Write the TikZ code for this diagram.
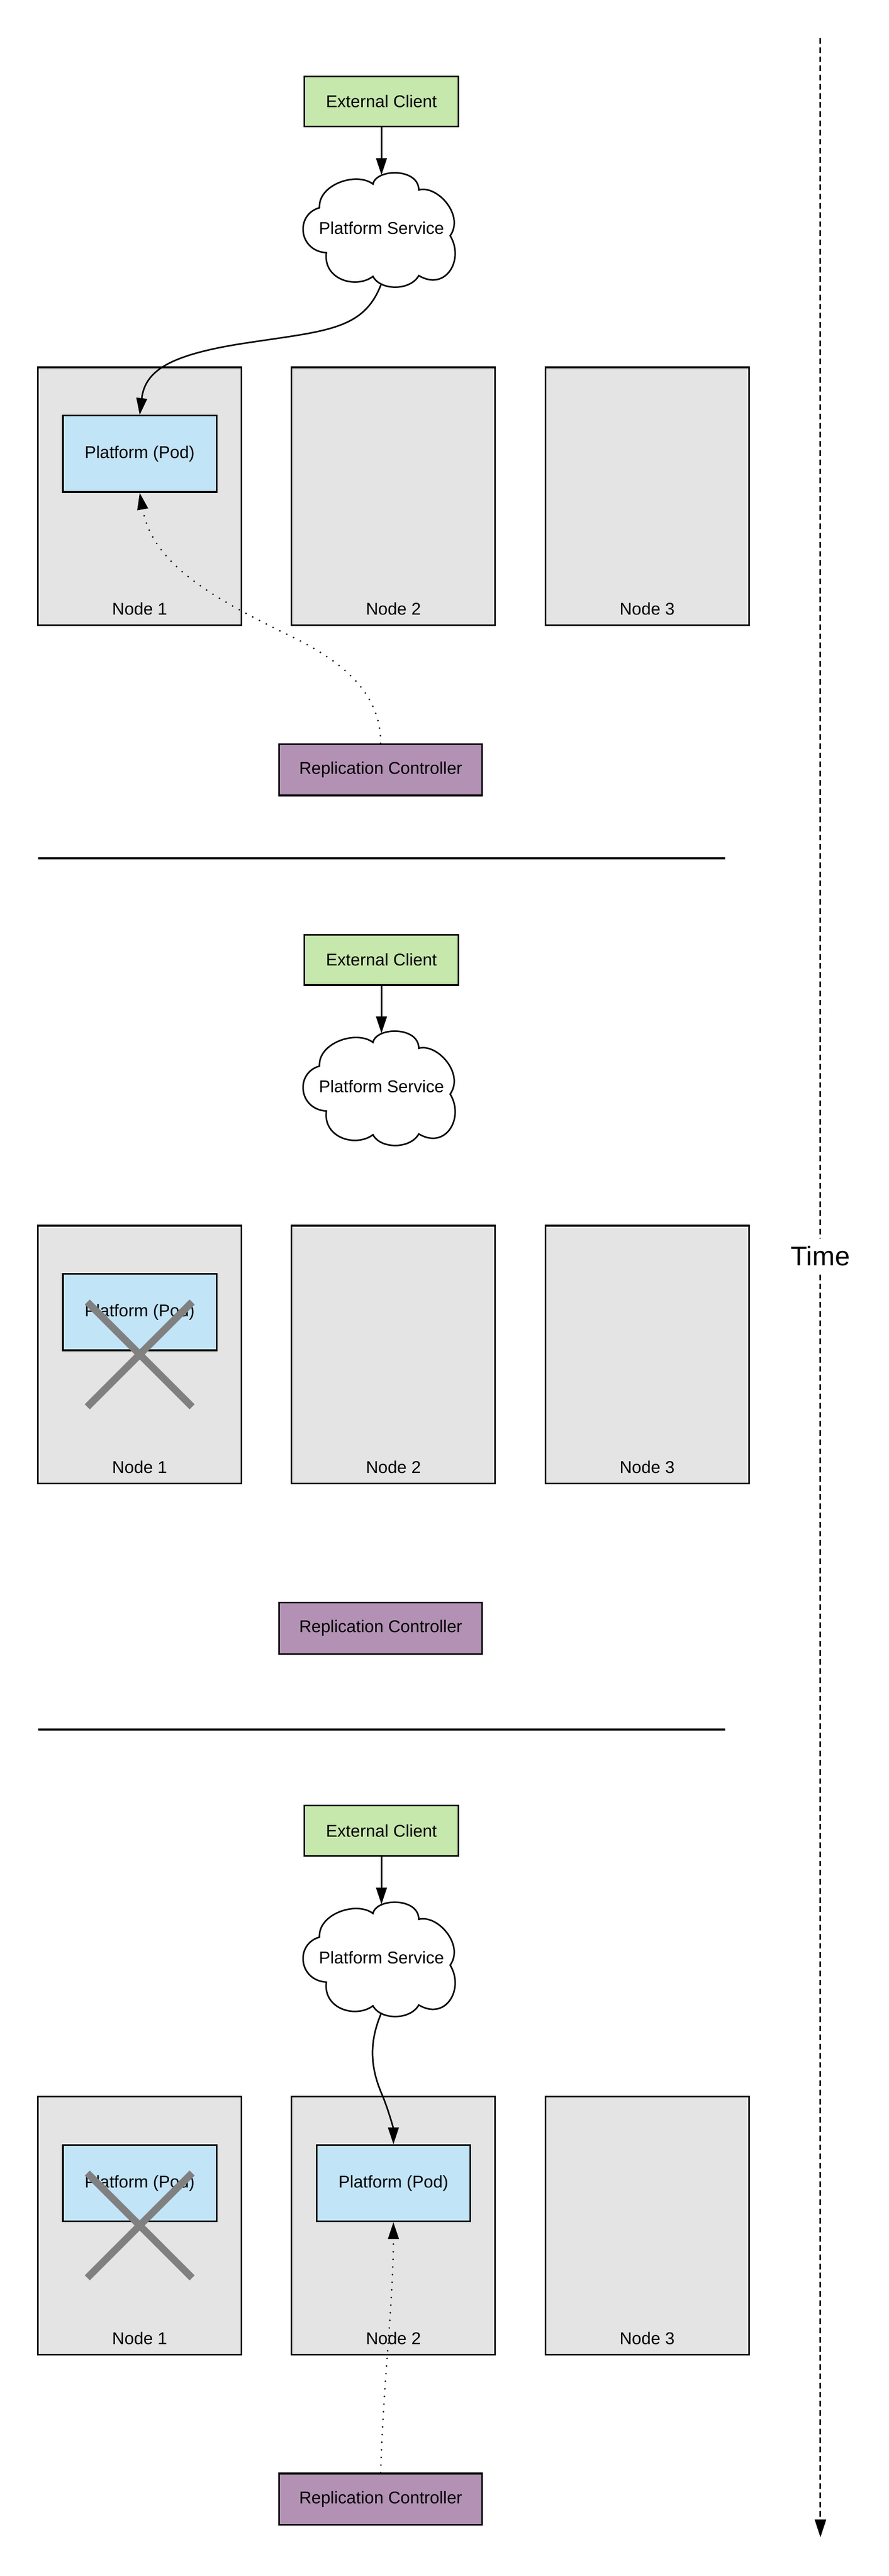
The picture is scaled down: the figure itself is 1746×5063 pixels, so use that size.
\documentclass[tikz,border=0pt]{standalone}
\usepackage{fontspec}
\setmainfont{Liberation Sans}
\usetikzlibrary{arrows.meta}
\definecolor{ecgreen}{HTML}{C7E8AC}
\definecolor{podblue}{HTML}{C1E4F7}
\definecolor{nodegray}{HTML}{E4E4E4}
\definecolor{rcpurple}{HTML}{B391B5}
\definecolor{crossgray}{HTML}{808080}
\newcommand\cloudshape{(-121.7,-42.7) .. controls (-125,-87.7) and (-50,-114.3) .. (-16.7,-89.3) .. controls (-10,-120) and (73.3,-121) .. (73.3,-77.7) .. controls (110,-87.7) and (163.3,-27.7) .. (135,12.3) .. controls (163.3,59) and (126.7,122.3) .. (73.3,90.7) .. controls (56.7,120.7) and (-1.7,120.7) .. (-16.7,92.3) .. controls (-50,117.3) and (-115,99) .. (-108.3,45.7) .. controls (-163.3,42.3) and (-170,-29.3) .. (-121.7,-42.7) -- cycle}
\begin{document}
\begin{tikzpicture}[x=0.5pt,y=-0.5pt,font=\fontsize{16.75pt}{20pt}\selectfont,
  box/.style={draw, line width=1.6pt, inner sep=0pt, align=center},
  ecbox/.style={box, fill=ecgreen, minimum width=151.5pt, minimum height=49.5pt},
  hostbox/.style={box, fill=nodegray, minimum width=200pt, minimum height=253.5pt},
  podbox/.style={box, fill=podblue, minimum width=151pt, minimum height=75pt},
  rcbox/.style={box, fill=rcpurple, minimum width=199.5pt, minimum height=50.5pt},
  lab/.style={inner sep=0pt},
  cloudline/.style={draw, fill=white, line width=1.5pt},
  flow/.style={line width=1.5pt, -{Triangle[width=10.5pt,length=16.5pt]}},
  ctrl/.style={line width=1.75pt, line cap=round, dash pattern=on 0pt off 7.5pt, -{Triangle[width=10.5pt,length=16.5pt]}},
  timeline/.style={line width=1.5pt, dash pattern=on 5.5pt off 3.5pt, -{Triangle[width=11pt,length=17.5pt]}},
  sepline/.style={line width=2pt},
  xmark/.style={draw=crossgray, line width=7pt}]
\useasboundingbox (0,0) rectangle (1746,5063);

% time axis
\coordinate (tstart) at (1612,75);
\coordinate (tend) at (1612,4987);
\draw[timeline] (tstart) -- (tend);
\node[fill=white, inner xsep=2pt, inner ysep=7pt, font=\fontsize{26.5pt}{30pt}\selectfont] (time) at (1612,2468) {Time};

% separators
\coordinate (s1a) at (74.5,1687);
\coordinate (s1b) at (1425,1687);
\coordinate (s2a) at (74.5,3399);
\coordinate (s2b) at (1425,3399);
\draw[sepline] (s1a) -- (s1b);
\draw[sepline] (s2a) -- (s2b);

% common parts of the three stages
\foreach \s/\off in {1/0,2/1687,3/3399}{
  \begin{scope}[shift={(0,\off)}]
    \node[ecbox] (ec\s) at (749.5,199.5) {External Client};
    \draw[cloudline, shift={(749.5,451)}] \cloudshape;
    \node[lab] (ps\s) at (749.5,448) {Platform Service};
    \coordinate (ct\s) at (749.5,344);
    \coordinate (cb\s) at (749.5,557);
    \draw[flow] (ec\s) -- (ct\s);
    \node[hostbox] (na\s) at (274.5,975.5) {};
    \node[hostbox] (nb\s) at (773,975.5) {};
    \node[hostbox] (nc\s) at (1271.5,975.5) {};
    \node[lab] (la\s) at (274.5,1197) {Node 1};
    \node[lab] (lb\s) at (773,1197) {Node 2};
    \node[lab] (lc\s) at (1271.5,1197) {Node 3};
    \node[rcbox] (rc\s) at (748,1513) {Replication Controller};
  \end{scope}
}

% stage 1
\node[podbox] (pa1) at (274.5,892) {Platform (Pod)};
\draw[flow] (cb1) .. controls (715,650) and (640,650) .. (478,675) .. controls (330,698) and (285,730) .. (pa1.north);
\draw[ctrl] (rc1.north) .. controls (748,1380) and (700,1310) .. (560,1245) .. controls (420,1175) and (300,1110) .. (pa1.south);

% stage 2
\node[podbox] (pa2) at (274.5,2579) {Platform (Pod)};
\draw[xmark] (171.5,2559) -- (377.5,2765);
\draw[xmark] (171.5,2765) -- (377.5,2559);

% stage 3
\node[podbox] (pa3) at (274.5,4291) {Platform (Pod)};
\draw[xmark] (171.5,4271) -- (377.5,4477);
\draw[xmark] (171.5,4477) -- (377.5,4271);
\node[podbox] (pb3) at (773,4291) {Platform (Pod)};
\draw[flow] (cb3) .. controls (722,4020) and (730,4070) .. (752,4120) .. controls (766,4155) and (773,4185) .. (pb3.north);
\draw[ctrl] (rc3.north) .. controls (752,4700) and (773,4520) .. (pb3.south);
\end{tikzpicture}
\end{document}
